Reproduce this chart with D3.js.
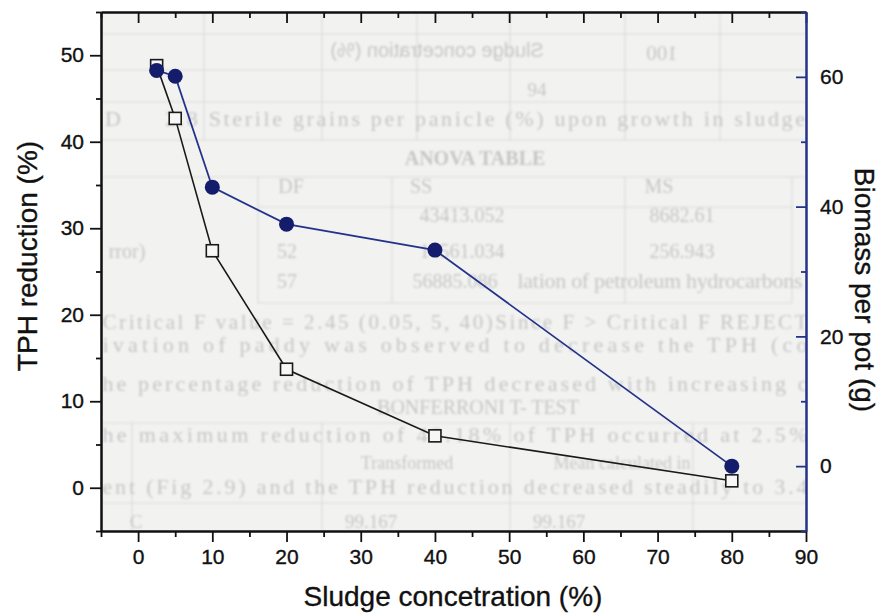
<!DOCTYPE html>
<html>
<head>
<meta charset="utf-8">
<script src="https://cdn.jsdelivr.net/npm/d3@7"></script>
<style>
  html, body { margin: 0; padding: 0; background: #ffffff; }
  svg { display: block; }
  .tick text { font-family: "Liberation Sans", Arial, sans-serif; }
</style>
</head>
<body>
<svg id="chart" width="887" height="616"></svg>
<script>
// Sludge concentration (%) used in the pot trials
const concentrations = [2.5, 5, 10, 20, 40, 80];
// TPH reduction (%) – left axis, open squares
const tphReduction = [48.8, 42.7, 27.4, 13.7, 6.0, 0.8];
// Biomass per pot (g) – right axis, filled circles
const biomass = [61.0, 60.1, 43.0, 37.3, 33.3, 0.0];

const xTicks = [0, 10, 20, 30, 40, 50, 60, 70, 80, 90];
const xMinorTicks = [-5, 5, 15, 25, 35, 45, 55, 65, 75, 85];
const leftTicks = [0, 10, 20, 30, 40, 50];
const leftMinorTicks = [-5, 5, 15, 25, 35, 45, 55];
const rightTicks = [0, 20, 40, 60];
const rightMinorTicks = [-10, 10, 30, 50, 70];

// Faint lines of a printed page showing through the plot area
const pageLines = [
  { t: "Sludge concetration (%)", x: 437, y: 57, size: 20, sans: true, mirror: true },
  { t: "100", x: 662, y: 60, size: 21, mirror: true },
  { t: "94", x: 537, y: 96, size: 19 },
  { t: "D", x: 113, y: 126, size: 22 },
  { t: "2.8 Sterile grains per panicle (%) upon growth in sludge", x: 485, y: 126, size: 22, len: 640 },
  { t: "ANOVA TABLE", x: 475, y: 165, size: 20, bold: true },
  { t: "DF", x: 291, y: 193, size: 20 },
  { t: "SS", x: 421, y: 193, size: 20 },
  { t: "MS", x: 659, y: 193, size: 20 },
  { t: "43413.052", x: 462, y: 222, size: 20 },
  { t: "8682.61", x: 682, y: 222, size: 20 },
  { t: "rror)", x: 127, y: 258, size: 20 },
  { t: "52", x: 287, y: 258, size: 20 },
  { t: "14561.034", x: 462, y: 258, size: 20 },
  { t: "256.943", x: 682, y: 258, size: 20 },
  { t: "57", x: 287, y: 288, size: 20 },
  { t: "56885.086", x: 455, y: 288, size: 20 },
  { t: "lation of petroleum hydrocarbons", x: 660, y: 288, size: 22, len: 285 },
  { t: "Critical F value = 2.45 (0.05, 5, 40)Since F > Critical F REJECT", x: 455, y: 329, size: 21, len: 705 },
  { t: "ivation of paddy was observed to decrease the TPH (co", x: 455, y: 352, size: 22, len: 705 },
  { t: "he percentage reduction of TPH decreased with increasing c", x: 455, y: 391, size: 22, len: 705 },
  { t: "BONFERRONI T- TEST", x: 478, y: 414, size: 20 },
  { t: "he maximum reduction of 48.18% of TPH occurred at 2.5%", x: 455, y: 442, size: 22, len: 705 },
  { t: "Transformed", x: 407, y: 469, size: 18 },
  { t: "Mean calculated in", x: 622, y: 469, size: 18 },
  { t: "ent (Fig 2.9) and the TPH reduction decreased steadily to 3.4", x: 455, y: 494, size: 22, len: 705 },
  { t: "C", x: 136, y: 528, size: 19 },
  { t: "99.167", x: 371, y: 528, size: 19 },
  { t: "99.167", x: 559, y: 528, size: 19 }
];
const pageRules = [
  // [x1, y1, x2, y2]
  [101, 34, 806, 34], [101, 70, 806, 70], [101, 102, 806, 102], [101, 140, 806, 140],
  [101, 177, 806, 177], [258, 207, 792, 207], [258, 303, 792, 303],
  [204, 12, 204, 140], [322, 12, 322, 140], [417, 12, 417, 140], [510, 12, 510, 140],
  [625, 12, 625, 140], [720, 12, 720, 140],
  [258, 177, 258, 303], [392, 177, 392, 303], [625, 177, 625, 303], [792, 177, 792, 303],
  [101, 423, 806, 423], [101, 503, 806, 503],
  [132, 423, 132, 531], [322, 423, 322, 531], [510, 423, 510, 531], [693, 423, 693, 531]
];

const svg = d3.select("#chart");
const plotLeft = 101, plotRight = 806, plotTop = 12, plotBottom = 531;

const x = d3.scaleLinear().domain([-5, 90]).range([plotLeft, plotRight]);
const yL = d3.scaleLinear().domain([-5, 55]).range([plotBottom, plotTop]);
const yR = d3.scaleLinear().domain([-10, 70]).range([plotBottom, plotTop]);

const ink = "#111111";
const blue = "#24338a";
const dot = "#141d6b";

// Plot background
svg.append("rect")
  .attr("x", plotLeft).attr("y", plotTop)
  .attr("width", plotRight - plotLeft).attr("height", plotBottom - plotTop)
  .attr("fill", "#f2f2f1");

// Show-through layer
svg.append("defs").html(`
  <clipPath id="plotClip"><rect x="${plotLeft}" y="${plotTop}" width="${plotRight - plotLeft}" height="${plotBottom - plotTop}"/></clipPath>
  <filter id="soft"><feGaussianBlur stdDeviation="0.8"/></filter>`);
const ghost = svg.append("g")
  .attr("clip-path", "url(#plotClip)")
  .append("g")
  .attr("filter", "url(#soft)");
ghost.selectAll("line").data(pageRules).join("line")
  .attr("x1", d => d[0]).attr("y1", d => d[1])
  .attr("x2", d => d[2]).attr("y2", d => d[3])
  .attr("stroke", "#dadada").attr("stroke-width", 1.2);
ghost.selectAll("text").data(pageLines).join("text")
  .attr("transform", d => d.mirror ? `translate(${d.x},${d.y}) scale(-1,1)` : `translate(${d.x},${d.y})`)
  .attr("text-anchor", "middle")
  .attr("font-family", d => d.sans ? "Liberation Sans, Arial, sans-serif" : "Liberation Serif, Times New Roman, serif")
  .attr("font-weight", d => d.bold ? "bold" : "normal")
  .attr("font-size", d => d.size)
  .attr("fill", "#c6c6c6")
  .each(function (d) {
    if (d.len) d3.select(this).attr("textLength", d.len).attr("lengthAdjust", "spacing");
  })
  .text(d => d.t);

// Axes
function styleAxis(g, color) {
  g.select(".domain").attr("stroke", color).attr("stroke-width", 2);
  g.selectAll(".tick line").attr("stroke", color).attr("stroke-width", 1.8);
  g.selectAll(".tick text").attr("fill", ink).attr("font-size", 21)
    .attr("stroke", ink).attr("stroke-width", 0.35);
}

// bottom
svg.append("g").attr("transform", `translate(0,${plotBottom})`)
  .call(d3.axisBottom(x).tickValues(xMinorTicks).tickSize(6).tickFormat("").tickSizeOuter(0))
  .call(g => styleAxis(g, ink));
svg.append("g").attr("transform", `translate(0,${plotBottom})`)
  .call(d3.axisBottom(x).tickValues(xTicks).tickSize(11).tickPadding(7).tickSizeOuter(0))
  .call(g => styleAxis(g, ink));

// top (ticks pointing in, no labels)
svg.append("g").attr("transform", `translate(0,${plotTop})`)
  .call(d3.axisTop(x).tickValues(xMinorTicks).tickSize(-6).tickFormat("").tickSizeOuter(0))
  .call(g => styleAxis(g, ink));
svg.append("g").attr("transform", `translate(0,${plotTop})`)
  .call(d3.axisTop(x).tickValues(xTicks).tickSize(-11).tickFormat("").tickSizeOuter(0))
  .call(g => styleAxis(g, ink));

// left
svg.append("g").attr("transform", `translate(${plotLeft},0)`)
  .call(d3.axisLeft(yL).tickValues(leftMinorTicks).tickSize(5).tickFormat("").tickSizeOuter(0))
  .call(g => styleAxis(g, ink));
svg.append("g").attr("transform", `translate(${plotLeft},0)`)
  .call(d3.axisLeft(yL).tickValues(leftTicks).tickSize(11).tickPadding(6).tickSizeOuter(0))
  .call(g => styleAxis(g, ink));

// right (blue, ticks pointing in, labels outside)
svg.append("g").attr("transform", `translate(${plotRight},0)`)
  .call(d3.axisRight(yR).tickValues(rightMinorTicks).tickSize(-5).tickFormat("").tickSizeOuter(0))
  .call(g => styleAxis(g, blue));
svg.append("g").attr("transform", `translate(${plotRight},0)`)
  .call(d3.axisRight(yR).tickValues(rightTicks).tickSize(-10).tickPadding(14).tickSizeOuter(0))
  .call(g => styleAxis(g, blue));

// Axis titles
const titleFont = "Liberation Sans, Arial, sans-serif";
function title(sel) {
  sel.attr("text-anchor", "middle")
    .attr("font-family", titleFont).attr("font-size", 28)
    .attr("fill", ink).attr("stroke", ink).attr("stroke-width", 0.35);
}
svg.append("text")
  .attr("x", 453).attr("y", 606)
  .call(title)
  .text("Sludge concetration (%)");
svg.append("text")
  .attr("transform", "translate(37,256) rotate(-90)")
  .call(title)
  .text("TPH reduction (%)");
svg.append("text")
  .attr("transform", "translate(855,290) rotate(90)")
  .call(title)
  .text("Biomass per pot (g)");

// Series
const tphData = concentrations.map((c, i) => ({ x: c, y: tphReduction[i] }));
const bioData = concentrations.map((c, i) => ({ x: c, y: biomass[i] }));

svg.append("path").datum(tphData)
  .attr("fill", "none").attr("stroke", "#1a1a1a").attr("stroke-width", 1.6)
  .attr("d", d3.line().x(d => x(d.x)).y(d => yL(d.y)));

svg.append("path").datum(bioData)
  .attr("fill", "none").attr("stroke", blue).attr("stroke-width", 1.8)
  .attr("d", d3.line().x(d => x(d.x)).y(d => yR(d.y)));

const sq = 12;
svg.append("g").selectAll("rect").data(tphData).join("rect")
  .attr("x", d => x(d.x) - sq / 2).attr("y", d => yL(d.y) - sq / 2)
  .attr("width", sq).attr("height", sq)
  .attr("fill", "#f7f7f7").attr("stroke", "#1a1a1a").attr("stroke-width", 1.6);

svg.append("g").selectAll("circle").data(bioData).join("circle")
  .attr("cx", d => x(d.x)).attr("cy", d => yR(d.y))
  .attr("r", 7.5)
  .attr("fill", dot);
</script>
</body>
</html>
